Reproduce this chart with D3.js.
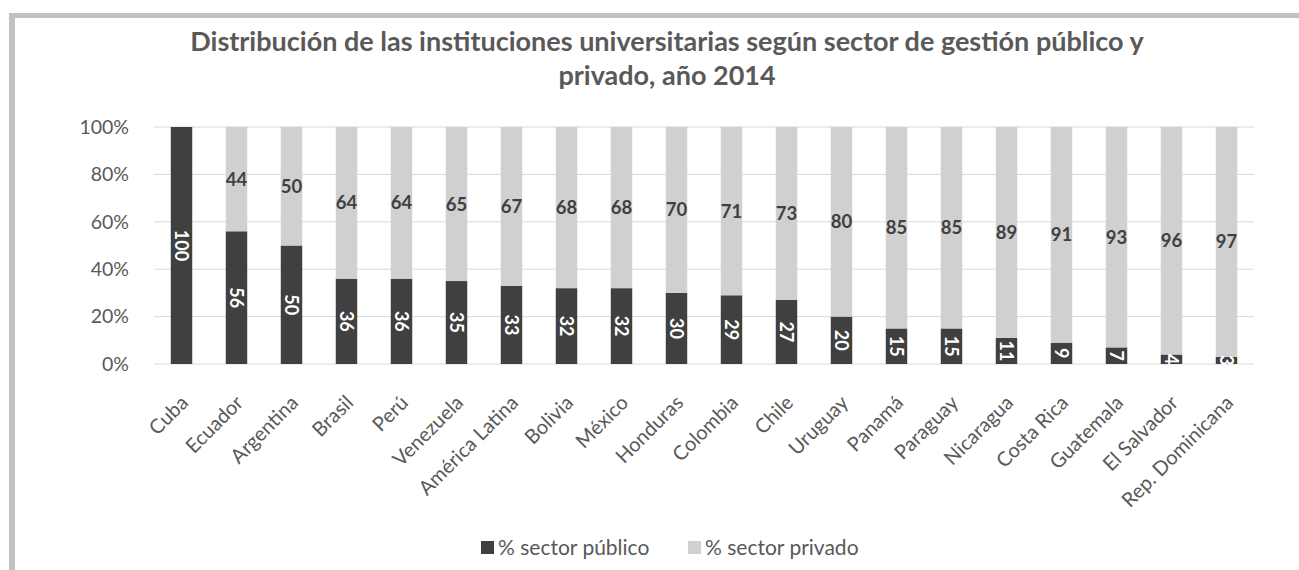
<!DOCTYPE html>
<html>
<head>
<meta charset="utf-8">
<script src="https://cdn.jsdelivr.net/npm/d3@7"></script>
<style>
  body { margin: 0; background: #fff; }
  text { font-family: Lato, "Open Sans", sans-serif; }
</style>
</head>
<body>
<div id="chart"></div>
<script>
let categories = ['Cuba', 'Ecuador', 'Argentina', 'Brasil', 'Perú', 'Venezuela', 'América Latina',
    'Bolivia', 'México', 'Honduras', 'Colombia', 'Chile', 'Uruguay', 'Panamá', 'Paraguay',
    'Nicaragua', 'Costa Rica', 'Guatemala', 'El Salvador', 'Rep. Dominicana'];
let publico = [100, 56, 50, 36, 36, 35, 33, 32, 32, 30, 29, 27, 20, 15, 15, 11, 9, 7, 4, 3];
let privado = [0, 44, 50, 64, 64, 65, 67, 68, 68, 70, 71, 73, 80, 85, 85, 89, 91, 93, 96, 97];
let seriesNames = ['% sector público', '% sector privado'];
let titleLines = ['Distribución de las instituciones universitarias según sector de gestión público y',
    'privado, año 2014'];

var width = 1299,
    height = 570;

var colors = ['#404040', '#d0d0d0'];

var svg = d3.select('#chart')
    .append('svg')
    .attr('width', width)
    .attr('height', height);

// grey frame (top and left only)
svg.append('rect').attr('x', 9).attr('y', 13).attr('width', width - 9).attr('height', 5).attr('fill', '#c0c1c4');
svg.append('rect').attr('x', 9).attr('y', 13).attr('width', 6).attr('height', height - 13).attr('fill', '#c0c1c4');

svg.selectAll('.title')
    .data(titleLines)
    .enter()
    .append('text')
    .attr('class', 'title')
    .attr('x', 667)
    .attr('y', function(d, i) { return 51 + i * 34; })
    .attr('text-anchor', 'middle')
    .attr('fill', '#595959')
    .attr('font-weight', 'bold')
    .attr('font-size', 27)
    .text(function(d) { return d; });

var x = d3.scaleBand()
    .domain(categories)
    .range([154, 1254])
    .paddingInner(0.61)
    .paddingOuter(0.305);

var y = d3.scaleLinear()
    .domain([0, 100])
    .range([364, 127]);

// gridlines
svg.append('g')
    .selectAll('line')
    .data(y.ticks(5))
    .enter()
    .append('line')
    .attr('x1', 154)
    .attr('x2', 1254)
    .attr('y1', function(d) { return y(d); })
    .attr('y2', function(d) { return y(d); })
    .attr('stroke', '#d9d9d9')
    .attr('stroke-width', 1);

var yAxis = svg.append('g')
    .attr('transform', 'translate(132,0)')
    .call(d3.axisLeft(y).ticks(5).tickSize(0).tickFormat(function(d) { return d + '%'; }));
yAxis.select('.domain').remove();
yAxis.selectAll('text')
    .attr('font-size', 19.5)
    .attr('fill', '#595959')
    .attr('font-family', 'Lato, sans-serif');

var rows = categories.map(function(c, i) {
    return { cat: c, publico: publico[i], privado: privado[i] };
});
var stacked = d3.stack().keys(['publico', 'privado'])(rows);

var layers = svg.append('g')
    .selectAll('g')
    .data(stacked)
    .enter()
    .append('g')
    .attr('fill', function(d, i) { return colors[i]; });

layers.selectAll('rect')
    .data(function(d) { return d; })
    .enter()
    .append('rect')
    .attr('x', function(d) { return x(d.data.cat); })
    .attr('width', x.bandwidth())
    .attr('y', function(d) { return y(d[1]); })
    .attr('height', function(d) { return y(d[0]) - y(d[1]); });

// public labels, rotated, white
svg.append('g')
    .selectAll('text')
    .data(stacked[0])
    .enter()
    .append('text')
    .attr('transform', function(d) {
        var cx = x(d.data.cat) + x.bandwidth() / 2,
            cy = y((d[0] + d[1]) / 2);
        return 'translate(' + cx + ',' + cy + ') rotate(90)';
    })
    .attr('text-anchor', 'middle')
    .attr('dy', '0.35em')
    .attr('fill', '#fff')
    .attr('font-weight', 'bold')
    .attr('font-size', 18)
    .text(function(d) { return d.data.publico; });

// private labels
svg.append('g')
    .selectAll('text')
    .data(stacked[1].filter(function(d) { return d.data.privado > 0; }))
    .enter()
    .append('text')
    .attr('x', function(d) { return x(d.data.cat) + x.bandwidth() / 2; })
    .attr('y', function(d) { return y((d[0] + d[1]) / 2); })
    .attr('text-anchor', 'middle')
    .attr('dy', '0.35em')
    .attr('fill', '#404040')
    .attr('font-weight', 'bold')
    .attr('font-size', 18.5)
    .text(function(d) { return d.data.privado; });

// category labels
svg.append('g')
    .selectAll('text')
    .data(categories)
    .enter()
    .append('text')
    .attr('transform', function(d) {
        return 'translate(' + (x(d) + x.bandwidth() / 2 + 8) + ',404) rotate(-45)';
    })
    .attr('text-anchor', 'end')
    .attr('fill', '#595959')
    .attr('font-size', 20)
    .text(function(d) { return d; });

// legend
var legend = svg.append('g')
    .selectAll('g')
    .data(seriesNames)
    .enter()
    .append('g')
    .attr('transform', function(d, i) { return 'translate(' + (481 + i * 207) + ',541)'; });
legend.append('rect')
    .attr('width', 13)
    .attr('height', 13)
    .attr('fill', function(d, i) { return colors[i]; });
legend.append('text')
    .attr('x', 17)
    .attr('y', 14)
    .attr('fill', '#595959')
    .attr('font-size', 21)
    .text(function(d) { return d; });
</script>
</body>
</html>
